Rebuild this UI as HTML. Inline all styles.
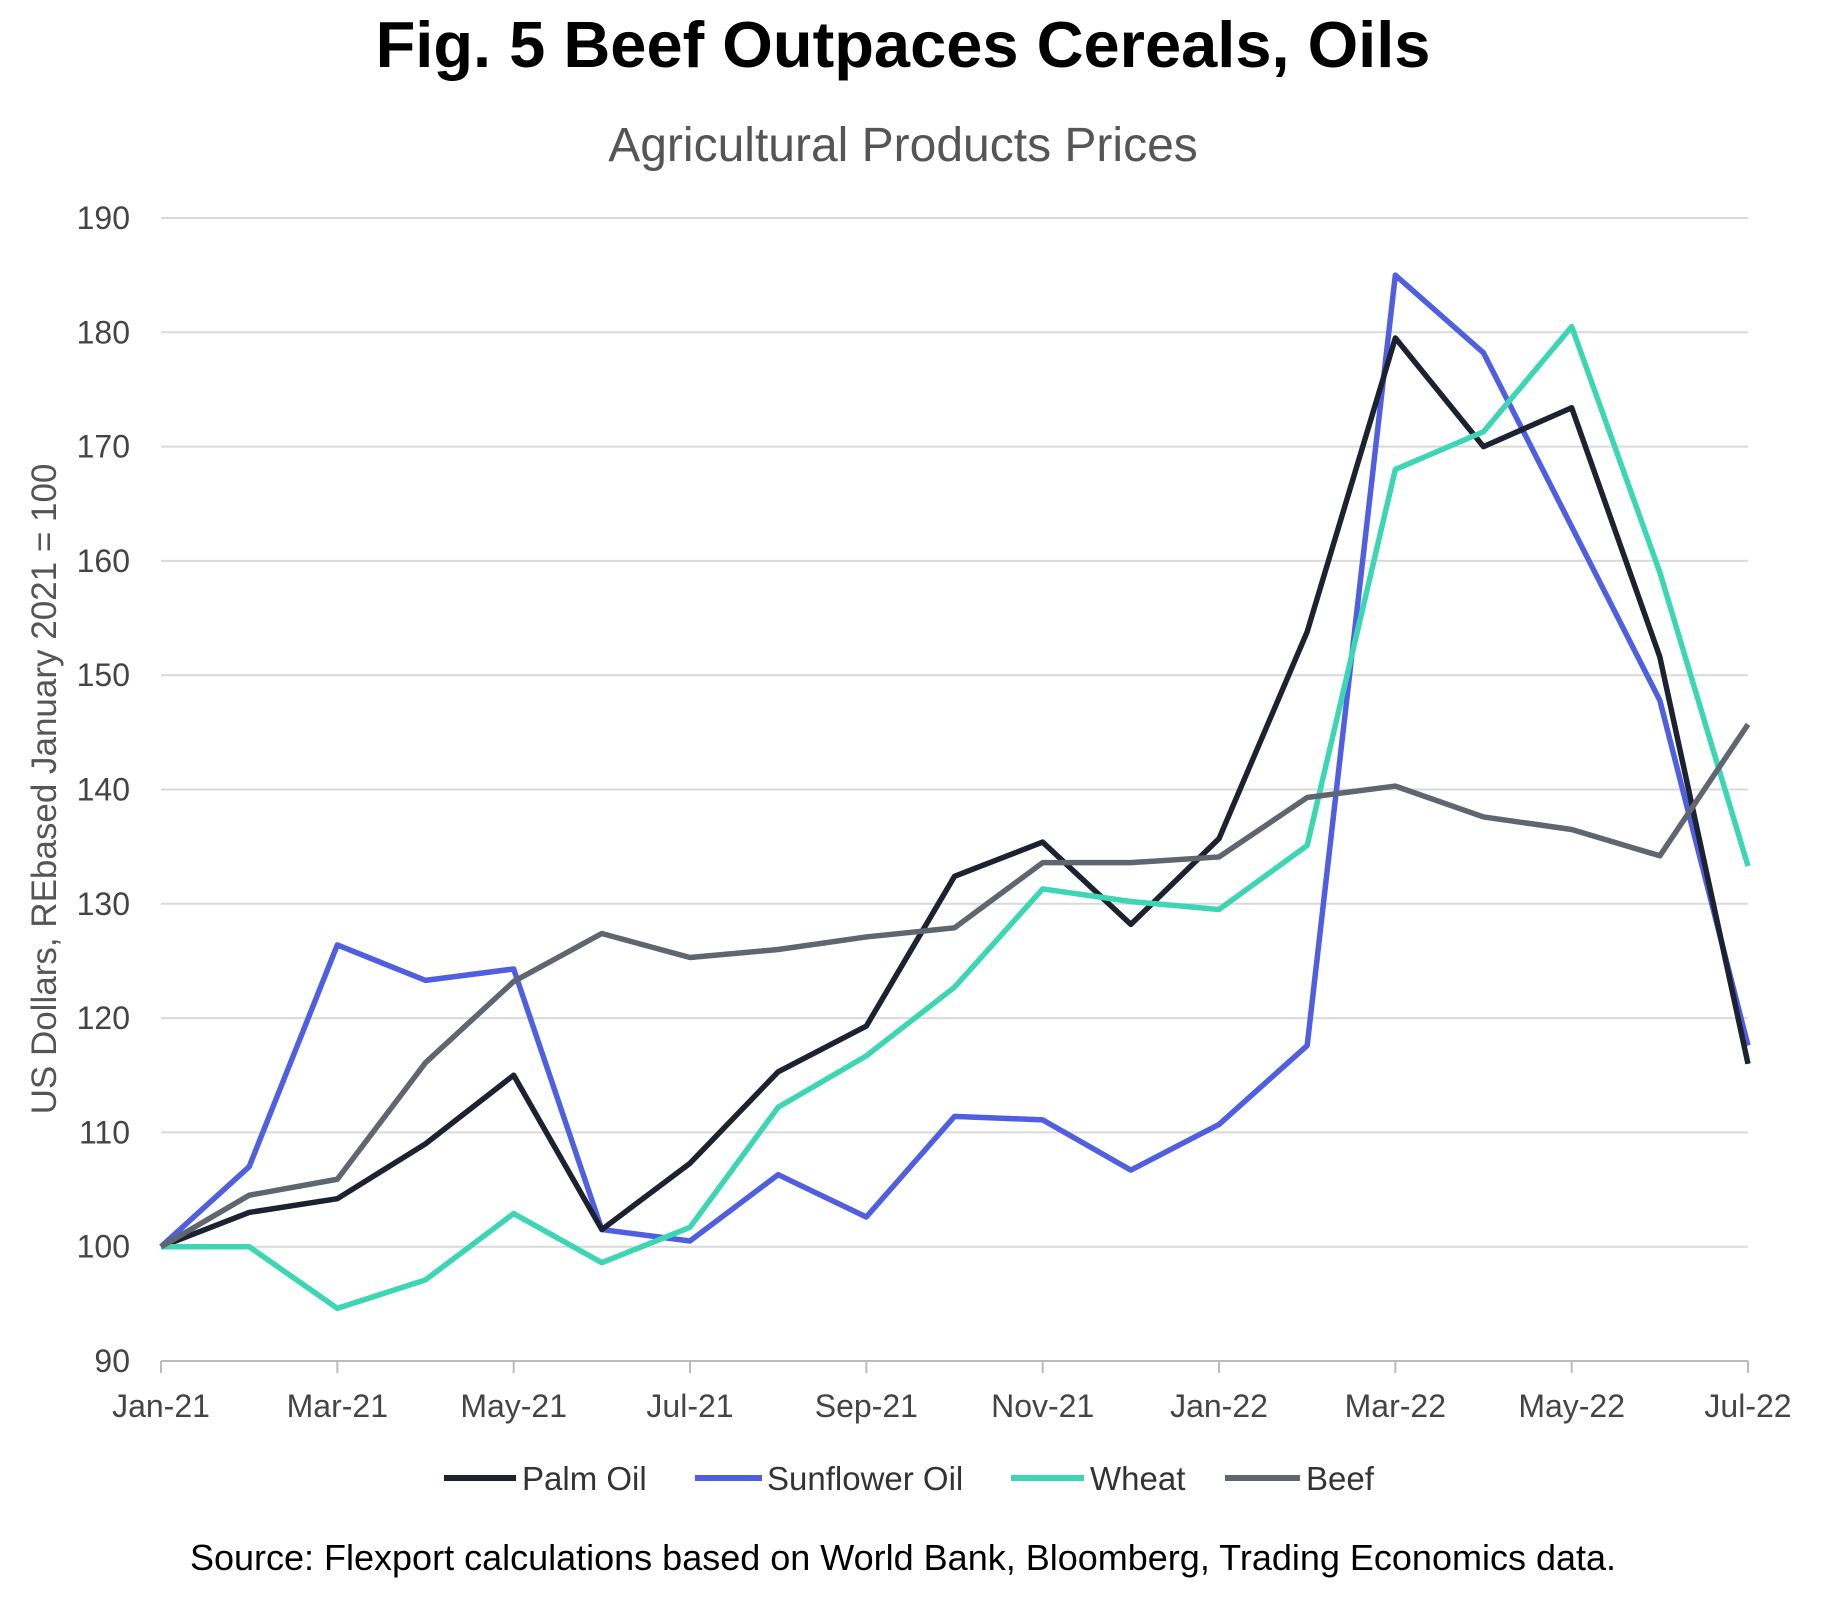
<!DOCTYPE html>
<html><head><meta charset="utf-8"><style>
body{margin:0;background:#fff;}
svg{display:block;font-family:"Liberation Sans",sans-serif;}
</style></head><body>
<svg id="s" width="1845" height="1598" viewBox="0 0 1845 1598" xmlns="http://www.w3.org/2000/svg">
<text x="903" y="67" text-anchor="middle" font-size="65" font-weight="bold" fill="#000">Fig. 5 Beef Outpaces Cereals, Oils</text>
<text x="903" y="161" text-anchor="middle" font-size="48" fill="#555">Agricultural Products Prices</text>
<text transform="translate(56,789) rotate(-90)" text-anchor="middle" font-size="35" fill="#555">US Dollars, REbased January 2021 = 100</text>
<g id="grid"></g>
<g id="lines" fill="none" stroke-width="5.5" stroke-linejoin="round"></g>
<g font-size="33" fill="#333">
<line x1="444" y1="1478" x2="516" y2="1478" stroke="#1c2230" stroke-width="6"/><text x="522" y="1490">Palm Oil</text>
<line x1="695" y1="1478" x2="762" y2="1478" stroke="#4f5fe0" stroke-width="6"/><text x="767" y="1490">Sunflower Oil</text>
<line x1="1011" y1="1478" x2="1084" y2="1478" stroke="#3dd6b5" stroke-width="6"/><text x="1090" y="1490">Wheat</text>
<line x1="1225" y1="1478" x2="1300" y2="1478" stroke="#5f6670" stroke-width="6"/><text x="1306" y="1490">Beef</text>
</g>
<text x="903" y="1570" text-anchor="middle" font-size="36" fill="#000">Source: Flexport calculations based on World Bank, Bloomberg, Trading Economics data.</text>
</svg>
<script>
var x0=161,x1=1748,n=19;
function X(i){return x0+(x1-x0)*i/(n-1);}
function Y(v){return 1361-(v-90)*11.43;}
var g=document.getElementById('grid'),h='';
for(var v=90;v<=190;v+=10){var y=Y(v);
h+='<line x1="'+x0+'" x2="'+x1+'" y1="'+y+'" y2="'+y+'" stroke="'+(v==90?'#bbb':'#d9d9d9')+'" stroke-width="2"/>';
h+='<text x="130" y="'+(y+11)+'" text-anchor="end" font-size="32" fill="#444">'+v+'</text>';}
var labs=['Jan-21','Mar-21','May-21','Jul-21','Sep-21','Nov-21','Jan-22','Mar-22','May-22','Jul-22'];
for(var k=0;k<10;k++){var x=X(2*k);
h+='<line x1="'+x+'" x2="'+x+'" y1="1361" y2="1373" stroke="#bbb" stroke-width="2"/>';
h+='<text x="'+x+'" y="1417" text-anchor="middle" font-size="32" fill="#444">'+labs[k]+'</text>';}
g.innerHTML=h;
var d=[
['#4f5fe0',[100,107,126.4,123.3,124.3,101.5,100.5,106.3,102.6,111.4,111.1,106.7,110.7,117.6,185,178.2,163,147.8,117.6]],
['#1c2230',[100,103,104.2,109,115,101.5,107.3,115.3,119.3,132.4,135.4,128.2,135.7,153.8,179.5,170,173.4,151.6,116]],
['#3dd6b5',[100,100,94.6,97.1,102.9,98.6,101.7,112.2,116.7,122.7,131.3,130.2,129.5,135.1,168,171.3,180.5,159,133.3]],
['#5f6670',[100,104.5,105.9,116.1,123.2,127.4,125.3,126,127.1,127.9,133.6,133.6,134.1,139.3,140.3,137.6,136.5,134.2,145.7]]];
var L=document.getElementById('lines'),s='';
d.forEach(function(e){s+='<polyline stroke="'+e[0]+'" points="'+e[1].map(function(v,i){return X(i)+','+Y(v);}).join(' ')+'"/>';});
L.innerHTML=s;
</script>
</body></html>
